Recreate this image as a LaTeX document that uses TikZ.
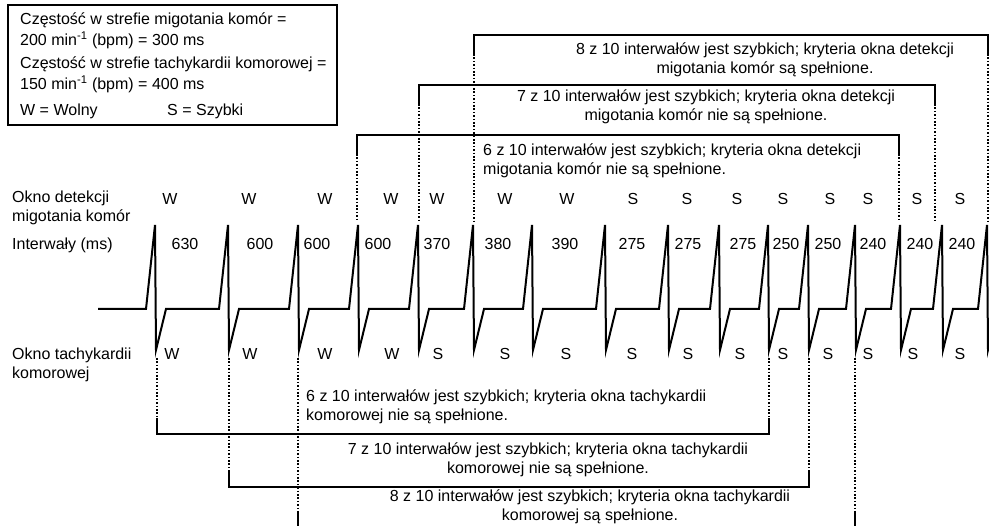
\documentclass[tikz,border=0pt]{standalone}
\usepackage{fontspec}
\setmainfont{Liberation Sans}
\usetikzlibrary{calc}
\definecolor{inkblack}{HTML}{000000}

\begin{document}
\begin{tikzpicture}[
    x=1pt, y=-1pt,
    line join=miter,
    txt/.style={font=\fontsize{16}{19.5}\selectfont, inner sep=0pt, text=inkblack},
    legendtxt/.style={txt, font=\fontsize{16}{21}\selectfont},
    solidline/.style={inkblack, line width=1.3pt},
    dotline/.style={inkblack, line width=1.1pt, dash pattern=on 1.6pt off 1.8pt},
    ecg/.style={inkblack, line width=2pt}
]

\useasboundingbox (0,0) rectangle (989,526);

% Legend box (multi-line nodes sit on their last baseline)
\draw[solidline] (8,5) rectangle (337,125);
\node[legendtxt, anchor=base west, align=left] (vfzone) at (20,46)
    {Częstość w strefie migotania komór =\\200 min\textsuperscript{-1} (bpm) = 300 ms};
\node[legendtxt, anchor=base west, align=left] (vtzone) at (20,90)
    {Częstość w strefie tachykardii komorowej =\\150 min\textsuperscript{-1} (bpm) = 400 ms};
\node[legendtxt, anchor=base west] (slow) at (20,116) {W = Wolny};
\node[legendtxt, anchor=base west] (fast) at (167,116) {S = Szybki};

% Row titles
\node[txt, anchor=base west, align=left] (vfrow) at (12,222) {Okno detekcji\\migotania komór};
\node[txt, anchor=base west] (ivlrow) at (12,250) {Interwały (ms)};
\node[txt, anchor=base west, align=left] (vtrow) at (12,379) {Okno tachykardii\\komorowej};

% ECG trace
\begin{scope}
\clip (0,0) rectangle (989,526);
\draw[ecg] (98,309) \foreach \s in {155,228,298,358,418,473,532,605,668,719,768,808,855,900,942,987}
    { -- (\s-9,309) -- (\s,225) -- (\s+1,350) -- (\s+11,309) };

% VF windows (top)
\foreach \l/\r/\t in {357/899/135, 419/935/85, 474/988/35} {
    \draw[solidline] (\l,\t+19) -- (\l,\t) -- (\r,\t) -- (\r,\t+19);
    \draw[dotline] (\l,\t+19) -- (\l,221);
    \draw[dotline] (\r,\t+19) -- (\r,221);
}

% VT windows (bottom)
\foreach \l/\r/\m/\b in {157/769/418/434, 229/809/471/487, 298/855/512/540} {
    \draw[dotline] (\l,358) -- (\l,\m);
    \draw[dotline] (\r,358) -- (\r,\m);
    \draw[solidline] (\l,\m) -- (\l,\b) -- (\r,\b) -- (\r,\m);
}
\end{scope}

% Beat classification and intervals
\foreach \x/\t [count=\i] in {170/W,249/W,325/W,391/W,437/W,505/W,567/W,633/S,687/S,737/S,783/S,830/S,868/S,917/S,960/S}
    \node[txt, anchor=base] (vfmark\i) at (\x,205) {\t};
\foreach \x/\t [count=\i] in {185/630,260/600,317/600,378/600,437/370,498/380,565/390,632/275,688/275,743/275,786/250,828/250,873/240,920/240,962/240}
    \node[txt, anchor=base] (ivl\i) at (\x,250) {\t};
\foreach \x/\t [count=\i] in {172/W,250/W,325/W,392/W,438/S,505/S,566/S,632/S,688/S,740/S,783/S,828/S,868/S,913/S,960/S}
    \node[txt, anchor=base] (vtmark\i) at (\x,360) {\t};

% Window texts
\node[txt, anchor=base, align=center] (vf8) at (765,74)
    {8 z 10 interwałów jest szybkich; kryteria okna detekcji\\migotania komór są spełnione.};
\node[txt, anchor=base, align=center] (vf7) at (706,121)
    {7 z 10 interwałów jest szybkich; kryteria okna detekcji\\migotania komór nie są spełnione.};
\node[txt, anchor=base west, align=left] (vf6) at (483,175)
    {6 z 10 interwałów jest szybkich; kryteria okna detekcji\\migotania komór nie są spełnione.};
\node[txt, anchor=base west, align=left] (vt6) at (306,421)
    {6 z 10 interwałów jest szybkich; kryteria okna tachykardii\\komorowej nie są spełnione.};
\node[txt, anchor=base, align=center] (vt7) at (548,474)
    {7 z 10 interwałów jest szybkich; kryteria okna tachykardii\\komorowej nie są spełnione.};
\node[txt, anchor=base, align=center] (vt8) at (590,521)
    {8 z 10 interwałów jest szybkich; kryteria okna tachykardii\\komorowej są spełnione.};

\end{tikzpicture}
\end{document}
